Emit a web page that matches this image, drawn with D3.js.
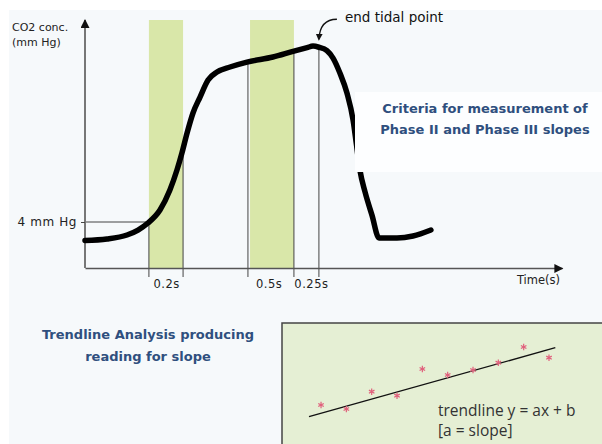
<!DOCTYPE html>
<html>
<head>
<meta charset="utf-8">
<script src="https://cdn.jsdelivr.net/npm/d3@7"></script>
<style>
  body { margin: 0; background: #fff; }
  svg { display: block; }
</style>
</head>
<body>
<svg id="chart"></svg>
<script>
const width = 602;
const height = 444;

// capnogram trace: time (s, schematic) and CO2 (mm Hg, schematic)
const traceTime = [0, 0.115, 0.22, 0.278, 0.33, 0.393, 0.445, 0.482, 0.508, 0.535, 0.566, 0.603, 0.645, 0.692, 0.76, 0.849, 0.985, 1.095, 1.164, 1.195, 1.226, 1.268, 1.3, 1.336, 1.373, 1.405, 1.423, 1.441, 1.468, 1.504, 1.541, 1.635, 1.719, 1.813];
const traceCO2 = [2.39, 2.52, 2.87, 3.3, 3.91, 5.04, 6.78, 8.52, 10.0, 11.74, 13.48, 14.87, 16.35, 17.04, 17.48, 17.91, 18.35, 18.87, 19.17, 19.3, 19.2, 18.9, 18.26, 16.96, 15.22, 12.87, 10.7, 8.5, 6.6, 4.6, 2.61, 2.61, 2.78, 3.3];

// shaded phase windows
const phaseStart = [0.335, 0.865];
const phaseEnd = [0.514, 1.095];

// vertical guide lines (time, CO2 where they meet the trace)
const guideTimes = [0.335, 0.514, 0.854, 1.095, 1.226];
const guideTops = [4.0, 10.3, 17.91, 18.87, 19.2];

const tickTimes = [0.425, 0.962, 1.184];
const tickLabels = ['0.2s', '0.5s', '0.25s'];
const thresholdCO2 = 4;

// trendline inset
const trendX = [1, 2, 3, 4, 5, 6, 7, 8, 9, 10];
const trendY = [3.0, 2.2, 5.66, 4.86, 10.2, 9.0, 10.0, 11.46, 14.6, 12.46];
const trendLineX = [0.525, 10.25];
const trendLineY = [0.66, 14.46];

const svg = d3.select('#chart')
    .attr('width', width)
    .attr('height', height);

const defs = svg.append('defs');
defs.append('marker')
    .attr('id', 'arrow')
    .attr('viewBox', '0 0 10 10')
    .attr('refX', 9).attr('refY', 5)
    .attr('markerWidth', 11).attr('markerHeight', 9)
    .attr('markerUnits', 'userSpaceOnUse')
    .attr('orient', 'auto')
    .append('path')
    .attr('d', 'M0,0L10,5L0,10z')
    .attr('fill', '#111');

defs.append('marker')
    .attr('id', 'small-arrow')
    .attr('viewBox', '0 0 10 10')
    .attr('refX', 8).attr('refY', 5)
    .attr('markerWidth', 7).attr('markerHeight', 7)
    .attr('markerUnits', 'userSpaceOnUse')
    .attr('orient', 'auto')
    .append('path')
    .attr('d', 'M0,0L10,5L0,10z')
    .attr('fill', '#111');

// page background
svg.append('rect')
    .attr('x', 9).attr('y', 10)
    .attr('width', width - 9).attr('height', height - 10)
    .attr('fill', '#f6f9fb');

const x = d3.scaleLinear().domain([0, 2.5]).range([85, 562]);
const y = d3.scaleLinear().domain([0, 21.57]).range([268, 20]);

// phase bands
svg.append('g').selectAll('rect')
    .data(phaseStart)
    .join('rect')
    .attr('x', d => x(d))
    .attr('y', y(21.57))
    .attr('width', (d, i) => x(phaseEnd[i]) - x(d))
    .attr('height', y(0) - y(21.57))
    .attr('fill', '#d9e7a9');

// guide lines
svg.append('g').selectAll('line')
    .data(guideTimes)
    .join('line')
    .attr('x1', d => x(d)).attr('x2', d => x(d))
    .attr('y1', (d, i) => y(guideTops[i]))
    .attr('y2', y(0) + 9)
    .attr('stroke', '#444')
    .attr('stroke-width', 1);

// 4 mm Hg guide
svg.append('line')
    .attr('x1', x(0)).attr('x2', x(guideTimes[0]))
    .attr('y1', y(thresholdCO2)).attr('y2', y(thresholdCO2))
    .attr('stroke', '#444')
    .attr('stroke-width', 1);

// axes
const xAxis = d3.axisBottom(x)
    .tickValues(tickTimes)
    .tickFormat((d, i) => tickLabels[i])
    .tickSize(0)
    .tickSizeOuter(0)
    .tickPadding(12);

const gx = svg.append('g')
    .attr('transform', `translate(0,${y(0)})`)
    .call(xAxis);
gx.select('.domain')
    .attr('stroke', '#555')
    .attr('stroke-width', 1.6)
    .attr('marker-end', 'url(#arrow)');
gx.selectAll('text')
    .attr('fill', '#222')
    .style('font-family', 'DejaVu Sans, sans-serif')
    .style('font-size', '11.5px')
    .style('letter-spacing', '0.5px');

const yAxis = d3.axisLeft(y)
    .tickValues([thresholdCO2])
    .tickFormat(() => '4 mm Hg')
    .tickSize(4)
    .tickSizeOuter(0)
    .tickPadding(4);

const gy = svg.append('g')
    .attr('transform', `translate(${x(0)},0)`)
    .call(yAxis);
gy.select('.domain')
    .attr('d', `M0,${y(0)}V${y(21.57)}`)
    .attr('stroke', '#777')
    .attr('stroke-width', 2)
    .attr('marker-end', 'url(#arrow)');
gy.selectAll('.tick line').attr('stroke', '#444');
gy.selectAll('text')
    .attr('fill', '#222')
    .style('font-family', 'DejaVu Sans, sans-serif')
    .style('font-size', '12px')
    .style('letter-spacing', '0.6px');

// capnogram trace
const trace = traceTime.map((t, i) => [t, traceCO2[i]]);
svg.append('path')
    .datum(trace)
    .attr('d', d3.line()
        .x(d => x(d[0]))
        .y(d => y(d[1]))
        .curve(d3.curveMonotoneX))
    .attr('fill', 'none')
    .attr('stroke', '#000')
    .attr('stroke-width', 5.5)
    .attr('stroke-linecap', 'round')
    .attr('stroke-linejoin', 'round');

// labels
svg.append('text')
    .attr('x', 12).attr('y', 31)
    .style('font-family', 'DejaVu Sans, sans-serif')
    .style('font-size', '11px')
    .attr('fill', '#222')
    .text('CO2 conc.');
svg.append('text')
    .attr('x', 12).attr('y', 46)
    .style('font-family', 'DejaVu Sans, sans-serif')
    .style('font-size', '11px')
    .attr('fill', '#222')
    .text('(mm Hg)');

svg.append('text')
    .attr('x', 560).attr('y', 284)
    .attr('text-anchor', 'end')
    .style('font-family', 'DejaVu Sans, sans-serif')
    .style('font-size', '11.5px')
    .attr('fill', '#222')
    .text('Time(s)');

svg.append('text')
    .attr('x', 345).attr('y', 22)
    .style('font-family', 'DejaVu Sans, sans-serif')
    .style('font-size', '13.5px')
    .attr('fill', '#111')
    .text('end tidal point');

// end tidal pointer, aimed at the trace peak
const peakX = x(guideTimes[4]);
const peakY = y(guideTops[4]);
svg.append('path')
    .attr('d', `M${peakX + 18},${peakY - 28}Q${peakX + 1},${peakY - 28} ${peakX},${peakY - 8}`)
    .attr('fill', 'none')
    .attr('stroke', '#111')
    .attr('stroke-width', 1.3)
    .attr('marker-end', 'url(#small-arrow)');

// white panel behind criteria text
svg.append('rect')
    .attr('x', 355).attr('y', 92)
    .attr('width', width - 355).attr('height', 80)
    .attr('fill', '#fdfeff');

const blueText = ['Criteria for measurement of', 'Phase II and Phase III slopes'];
svg.append('g').selectAll('text')
    .data(blueText)
    .join('text')
    .attr('x', 485)
    .attr('y', (d, i) => 113 + i * 21)
    .attr('text-anchor', 'middle')
    .style('font-family', 'DejaVu Sans, sans-serif')
    .style('font-size', '13px')
    .style('font-weight', 'bold')
    .attr('fill', '#2f4f7e')
    .text(d => d);

const trendTitle = ['Trendline Analysis producing', 'reading for slope'];
svg.append('g').selectAll('text')
    .data(trendTitle)
    .join('text')
    .attr('x', 148)
    .attr('y', (d, i) => 339 + i * 22)
    .attr('text-anchor', 'middle')
    .style('font-family', 'DejaVu Sans, sans-serif')
    .style('font-size', '13px')
    .style('font-weight', 'bold')
    .attr('fill', '#2f4f7e')
    .text(d => d);

// inset panel
svg.append('rect')
    .attr('x', 282).attr('y', 323)
    .attr('width', 340).attr('height', 140)
    .attr('fill', '#e5efd4')
    .attr('stroke', '#444')
    .attr('stroke-width', 1.5);

const ix = d3.scaleLinear().domain([0, 10]).range([295.7, 549]);
const iy = d3.scaleLinear().domain([0, 20]).range([420, 320]);

svg.append('line')
    .attr('x1', ix(trendLineX[0])).attr('y1', iy(trendLineY[0]))
    .attr('x2', ix(trendLineX[1])).attr('y2', iy(trendLineY[1]))
    .attr('stroke', '#111')
    .attr('stroke-width', 1.4);

svg.append('g').selectAll('path')
    .data(trendX)
    .join('path')
    .attr('transform', (d, i) => `translate(${ix(d)},${iy(trendY[i])})`)
    .attr('d', d3.symbol(d3.symbolAsterisk, 28))
    .attr('fill', 'none')
    .attr('stroke', '#e0607c')
    .attr('stroke-width', 1.2);

svg.append('text')
    .attr('x', 438).attr('y', 416)
    .style('font-family', 'Open Sans, sans-serif')
    .style('font-size', '15.5px')
    .attr('fill', '#333')
    .text('trendline y = ax + b');
svg.append('text')
    .attr('x', 438).attr('y', 436)
    .style('font-family', 'Open Sans, sans-serif')
    .style('font-size', '15.5px')
    .attr('fill', '#333')
    .text('[a = slope]');
</script>
</body>
</html>
